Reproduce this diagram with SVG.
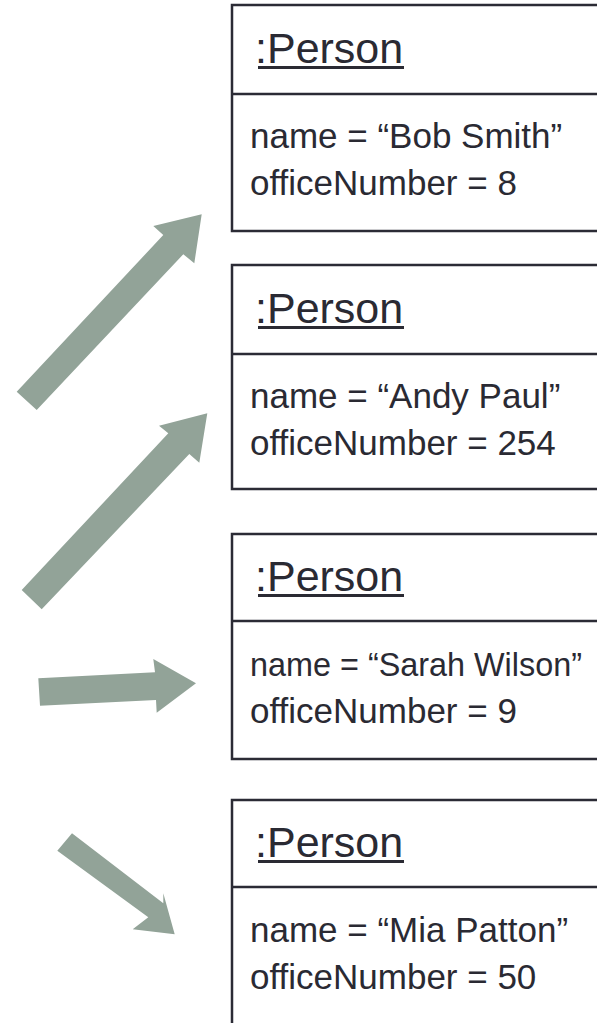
<svg xmlns="http://www.w3.org/2000/svg" width="597" height="1023" viewBox="0 0 597 1023">
  <style>
    .box { fill: #ffffff; stroke: #2b2b35; stroke-width: 2.5; }
    .sep { stroke: #2b2b35; stroke-width: 2.5; }
    .title { font-family: "Liberation Sans", Arial, sans-serif; font-size: 43px; fill: #2a2a33; }
    .ul { stroke: #2a2a33; stroke-width: 3; }
    .attr { font-family: "Liberation Sans", Arial, sans-serif; font-size: 35px; fill: #2a2a33; }
    .tight { font-size: 33.5px; }
    .arrow { fill: #92a398; }
  </style>

  <rect width="597" height="1023" fill="#ffffff"/>

  <!-- object nodes: each box runs off the right edge -->
  <g id="person-bob" transform="translate(232,5)">
    <rect class="box" x="0" y="0" width="420" height="226"/>
    <line class="sep" x1="0" y1="89" x2="420" y2="89"/>
    <text class="title" x="23" y="58">:Person</text>
    <line class="ul" x1="26" y1="62.5" x2="172" y2="62.5"/>
    <text class="attr" x="18" y="143">name = “Bob Smith”</text>
    <text class="attr" x="18" y="190">officeNumber = 8</text>
  </g>

  <g id="person-andy" transform="translate(232,265)">
    <rect class="box" x="0" y="0" width="420" height="224"/>
    <line class="sep" x1="0" y1="89" x2="420" y2="89"/>
    <text class="title" x="23" y="58">:Person</text>
    <line class="ul" x1="26" y1="62.5" x2="172" y2="62.5"/>
    <text class="attr" x="18" y="143">name = “Andy Paul”</text>
    <text class="attr" x="18" y="190">officeNumber = 254</text>
  </g>

  <g id="person-sarah" transform="translate(232,534)">
    <rect class="box" x="0" y="0" width="420" height="225"/>
    <line class="sep" x1="0" y1="87" x2="420" y2="87"/>
    <text class="title" x="23" y="57">:Person</text>
    <line class="ul" x1="26" y1="61.5" x2="172" y2="61.5"/>
    <text class="attr tight" x="18" y="142" textLength="332" lengthAdjust="spacingAndGlyphs">name = “Sarah Wilson”</text>
    <text class="attr" x="18" y="189">officeNumber = 9</text>
  </g>

  <g id="person-mia" transform="translate(232,800)">
    <rect class="box" x="0" y="0" width="420" height="260"/>
    <line class="sep" x1="0" y1="87" x2="420" y2="87"/>
    <text class="title" x="23" y="57">:Person</text>
    <line class="ul" x1="26" y1="61.5" x2="172" y2="61.5"/>
    <text class="attr" x="18" y="142">name = “Mia Patton”</text>
    <text class="attr" x="18" y="189">officeNumber = 50</text>
  </g>

  <!-- block arrows pointing at the objects -->
  <g id="connectors">
    <polygon class="arrow" points="16.7,391.7 36.7,410 183.3,254.3 194.3,263.3 201.7,214.3 153.3,226 163.3,235"/>
    <polygon class="arrow" points="21.7,590 41.7,609.3 189.3,454 199.3,462.7 207.3,413.3 159,425.7 168.3,433.3"/>
    <polygon class="arrow" points="38.3,678.3 40,705.7 156,700 156.7,712.7 196,683.3 153.3,659 155,672.3"/>
    <polygon class="arrow" points="72,833.3 57.3,850.7 148.3,917.3 132.7,929.3 174.7,934.3 163.3,893.3 163.3,903.3"/>
  </g>
</svg>
